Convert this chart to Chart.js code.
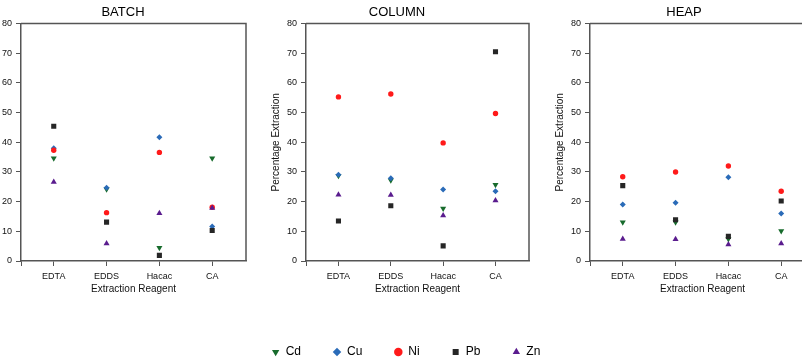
<!DOCTYPE html>
<html lang="en">
<head>
  <meta charset="UTF-8">
  <title>Percentage extraction by reagent</title>
  <script src="https://cdn.jsdelivr.net/npm/chart.js"></script>
  <style>
    html, body {
      margin: 0;
      padding: 0;
      background: #ffffff;
      width: 802px;
      height: 360px;
      overflow: hidden;
      position: relative;
    }
    canvas {
      position: absolute;
      top: 0;
    }
    #batch { left: 0; }
    #column { left: 265px; }
    #heap { left: 549px; }
    #legend { left: 5px; top: 314px; }
  </style>
</head>
<body>
  <canvas id="batch" width="260" height="300"></canvas>
  <canvas id="column" width="270" height="300"></canvas>
  <canvas id="heap" width="270" height="300"></canvas>
  <canvas id="legend" width="802" height="100"></canvas>

  <script>
    // data
    const reagents = ["EDTA", "EDDS", "Hacac", "CA"];
    const metals = ["Cd", "Cu", "Ni", "Pb", "Zn"];
    const yTicks = [0, 10, 20, 30, 40, 50, 60, 70, 80];

    const batchCd = [34.6, 24.2, 4.5, 34.6];
    const batchCu = [38.0, 24.7, 41.7, 11.6];
    const batchNi = [37.3, 16.3, 36.6, 18.1];
    const batchPb = [45.4, 13.1, 1.9, 10.3];
    const batchZn = [26.6, 5.9, 16.1, 17.9];

    const columnCd = [28.7, 27.2, 17.7, 25.7];
    const columnCu = [29.1, 27.9, 24.1, 23.5];
    const columnNi = [55.3, 56.3, 39.8, 49.7];
    const columnPb = [13.5, 18.6, 5.1, 70.5];
    const columnZn = [22.3, 22.2, 15.3, 20.4];

    const heapCd = [13.1, 13.1, 7.4, 10.1];
    const heapCu = [19.0, 19.6, 28.2, 16.0];
    const heapNi = [28.4, 30.0, 32.0, 23.5];
    const heapPb = [25.4, 13.9, 8.3, 20.2];
    const heapZn = [7.4, 7.3, 5.6, 5.9];

    // marker look per metal
    const styles = {
      Cd: { color: "#176b2c", pointStyle: "triangle", rotation: 180, radius: 3.5 },
      Cu: { color: "#2a6bb8", pointStyle: "rectRot", rotation: 0, radius: 3 },
      Ni: { color: "#ff1a1a", pointStyle: "circle", rotation: 0, radius: 2.7 },
      Pb: { color: "#262626", pointStyle: "rect", rotation: 0, radius: 3.6 },
      Zn: { color: "#5a1c8e", pointStyle: "triangle", rotation: 0, radius: 3.5 }
    };

    const FONT = "'Liberation Sans', Arial, sans-serif";
    const AXIS = "#555555";

    Chart.defaults.font.family = FONT;
    Chart.defaults.color = "#111111";
    Chart.defaults.devicePixelRatio = 1;

    // top and right edges of the frame
    const framePlugin = {
      id: "frame",
      afterDatasetsDraw(chart) {
        const a = chart.chartArea;
        const ctx = chart.ctx;
        ctx.save();
        ctx.strokeStyle = AXIS;
        ctx.lineWidth = 1.5;
        ctx.beginPath();
        ctx.moveTo(a.left, a.top);
        ctx.lineTo(a.right, a.top);
        ctx.lineTo(a.right, a.bottom);
        ctx.stroke();
        ctx.restore();
      }
    };

    const makePanel = (canvasId, title, series, showYTitle, padRight) => {
      const datasets = metals.map((m, k) => ({
        label: m,
        data: series[k].map((v, i) => ({ x: i + 1, y: v })),
        backgroundColor: styles[m].color,
        borderColor: styles[m].color,
        borderWidth: 0,
        pointStyle: styles[m].pointStyle,
        pointRotation: styles[m].rotation,
        pointRadius: styles[m].radius,
        order: metals.length - k
      }));

      return new Chart(document.getElementById(canvasId), {
        type: "scatter",
        data: { datasets },
        options: {
          responsive: false,
          animation: false,
          layout: { padding: { left: 0, right: padRight, top: 0, bottom: 0 } },
          plugins: {
            legend: { display: false },
            tooltip: { enabled: false },
            title: {
              display: true,
              text: title,
              font: { size: 13, weight: "normal", family: FONT },
              color: "#000000",
              padding: { top: 5, bottom: 3 }
            }
          },
          scales: {
            x: {
              type: "linear",
              min: 0.38,
              max: 4.64,
              afterBuildTicks: (s) => {
                s.ticks = [{ value: s.min }].concat(reagents.map((r, i) => ({ value: i + 1 })));
              },
              afterFit: (s) => { s.height = 39; },
              ticks: {
                autoSkip: false,
                maxRotation: 0,
                padding: 5,
                font: { size: 9 },
                color: "#111111",
                callback: (v) => (Number.isInteger(v) ? reagents[v - 1] : "")
              },
              grid: { display: true, drawOnChartArea: false, tickLength: 5, color: AXIS },
              border: { display: true, color: AXIS, width: 1.5 },
              title: {
                display: true,
                text: "Extraction Reagent",
                font: { size: 10 },
                color: "#111111",
                padding: { top: 0, bottom: 5 }
              }
            },
            y: {
              min: 0,
              max: 80,
              afterBuildTicks: (s) => { s.ticks = yTicks.map((v) => ({ value: v })); },
              afterFit: (s) => { s.width = showYTitle ? 41 : 21; },
              ticks: { padding: 4, font: { size: 9 }, color: "#111111" },
              grid: { display: true, drawOnChartArea: false, tickLength: 5, color: AXIS },
              border: { display: true, color: AXIS, width: 1.5 },
              title: {
                display: showYTitle,
                text: "Percentage Extraction",
                font: { size: 10 },
                color: "#111111",
                padding: { top: 5, bottom: 0 }
              }
            }
          }
        },
        plugins: [framePlugin]
      });
    };

    makePanel("batch", "BATCH", [batchCd, batchCu, batchNi, batchPb, batchZn], false, 14);
    makePanel("column", "COLUMN", [columnCd, columnCu, columnNi, columnPb, columnZn], true, 6);
    makePanel("heap", "HEAP", [heapCd, heapCu, heapNi, heapPb, heapZn], true, 0);

    // shared legend along the bottom (labels.padding also sets its top gap)
    new Chart(document.getElementById("legend"), {
      type: "scatter",
      data: {
        datasets: metals.map((m) => ({
          label: m,
          data: [],
          backgroundColor: styles[m].color,
          borderColor: styles[m].color,
          borderWidth: 0,
          pointStyle: styles[m].pointStyle,
          pointRotation: styles[m].rotation
        }))
      },
      options: {
        responsive: false,
        animation: false,
        layout: { padding: 0 },
        scales: { x: { display: false }, y: { display: false } },
        plugins: {
          tooltip: { enabled: false },
          legend: {
            display: true,
            position: "top",
            maxHeight: 100,
            labels: {
              usePointStyle: true,
              boxWidth: 8,
              boxHeight: 6,
              padding: 32,
              color: "#000000",
              font: { size: 12, family: FONT }
            }
          }
        }
      }
    });
  </script>
</body>
</html>
